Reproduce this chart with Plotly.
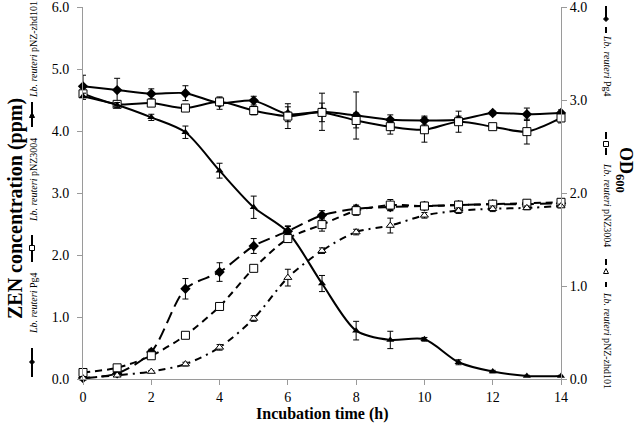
import plotly.graph_objects as go

time_h = [0, 1, 2, 3, 4, 5, 6, 7, 8, 9, 10, 11, 12, 13, 14]

zen_pg4 = [4.72, 4.66, 4.60, 4.61, 4.45, 4.49, 4.27, 4.31, 4.25, 4.18, 4.17, 4.18, 4.29, 4.27, 4.29]
zen_pg4_err = [0.18, 0.19, 0.08, 0.12, 0.10, 0.07, 0.12, 0.30, 0.38, 0.08, 0.07, 0.06, 0.03, 0.10, 0.05]
zen_pnz3004 = [4.60, 4.43, 4.45, 4.37, 4.47, 4.33, 4.24, 4.30, 4.17, 4.07, 4.02, 4.15, 4.07, 3.99, 4.21]
zen_pnz3004_err = [0.05, 0.05, 0.05, 0.05, 0.06, 0.07, 0.20, 0.15, 0.12, 0.12, 0.20, 0.17, 0.04, 0.20, 0.08]
zen_zhd101 = [4.56, 4.42, 4.22, 3.98, 3.36, 2.77, 2.37, 1.54, 0.78, 0.63, 0.64, 0.27, 0.12, 0.05, 0.05]
zen_zhd101_err = [0.05, 0.04, 0.05, 0.10, 0.12, 0.18, 0.10, 0.13, 0.15, 0.14, 0.03, 0.04, 0.02, 0.01, 0.01]

od_pg4 = [0.01, 0.06, 0.29, 0.97, 1.15, 1.43, 1.59, 1.76, 1.83, 1.85, 1.86, 1.87, 1.88, 1.88, 1.89]
od_pg4_err = [0.01, 0.02, 0.03, 0.11, 0.10, 0.08, 0.05, 0.05, 0.04, 0.04, 0.03, 0.04, 0.02, 0.03, 0.03]
od_pnz3004 = [0.07, 0.12, 0.25, 0.47, 0.78, 1.19, 1.51, 1.66, 1.81, 1.87, 1.86, 1.87, 1.88, 1.89, 1.90]
od_pnz3004_err = [0.01, 0.01, 0.02, 0.02, 0.02, 0.03, 0.04, 0.07, 0.05, 0.06, 0.04, 0.03, 0.02, 0.03, 0.03]
od_zhd101 = [0.01, 0.04, 0.08, 0.16, 0.34, 0.65, 1.09, 1.38, 1.58, 1.65, 1.76, 1.81, 1.83, 1.84, 1.86]
od_zhd101_err = [0.01, 0.01, 0.01, 0.02, 0.03, 0.03, 0.09, 0.03, 0.03, 0.08, 0.03, 0.03, 0.03, 0.02, 0.02]

x_ticks = [0, 2, 4, 6, 8, 10, 12, 14]
zen_ticks = [0, 1, 2, 3, 4, 5, 6]
od_ticks = [0, 1, 2, 3, 4]

strain_names = ["Pg4", "pNZ3004", "pNZ-zhd101"]

W, H = 638, 423
L, R, T, B = 83, 561, 7, 379
FONT = "Liberation Serif, Times New Roman, serif"


def err(v):
    return dict(type="data", array=v, visible=True, color="black", thickness=1, width=3)


fig = go.Figure()

od_specs = [
    (od_pg4, od_pg4_err, "12px,6px", dict(symbol="diamond", size=8, color="black"), strain_names[0]),
    (od_pnz3004, od_pnz3004_err, "7px,5px", dict(symbol="square", size=8, color="white", line=dict(color="black", width=1)), strain_names[1]),
    (od_zhd101, od_zhd101_err, "7px,5px,2px,5px", dict(symbol="triangle-up", size=7, color="white", line=dict(color="black", width=1)), strain_names[2]),
]
for y, e, dash, mk, nm in od_specs:
    fig.add_trace(go.Scatter(
        x=time_h, y=y, yaxis="y2", mode="lines+markers", name="OD " + nm,
        line=dict(color="black", width=2, dash=dash, shape="spline", smoothing=0.8),
        marker=mk, error_y=err(e), cliponaxis=False, showlegend=False))

zen_specs = [
    (zen_pg4, zen_pg4_err, dict(symbol="diamond", size=8, color="black"), strain_names[0]),
    (zen_pnz3004, zen_pnz3004_err, dict(symbol="square", size=8, color="white", line=dict(color="black", width=1)), strain_names[1]),
    (zen_zhd101, zen_zhd101_err, dict(symbol="triangle-up", size=7, color="black"), strain_names[2]),
]
for y, e, mk, nm in zen_specs:
    fig.add_trace(go.Scatter(
        x=time_h, y=y, mode="lines+markers", name="ZEN " + nm,
        line=dict(color="black", width=2, shape="spline", smoothing=0.8),
        marker=mk, error_y=err(e), cliponaxis=False, showlegend=False))


def px(xp):
    return (xp - L) / (R - L)


def py(yp):
    return (B - yp) / (B - T)


shapes = []
annotations = []


def vline(x, y0, y1, dash="solid"):
    shapes.append(dict(type="line", xref="paper", yref="paper", x0=px(x), x1=px(x),
                       y0=py(y0), y1=py(y1), line=dict(color="black", width=2, dash=dash)))


def marker_shape(kind, x, y, filled, s=3):
    fill = "black" if filled else "white"
    if kind == "diamond":
        pts = [(x, y - s), (x + s, y), (x, y + s), (x - s, y)]
    elif kind == "square":
        pts = [(x - s, y - s), (x + s, y - s), (x + s, y + s), (x - s, y + s)]
    else:
        pts = [(x, y - s), (x + s, y + s), (x - s, y + s)]
    path = "M " + " L ".join(f"{px(a)},{py(b)}" for a, b in pts) + " Z"
    shapes.append(dict(type="path", xref="paper", yref="paper", path=path,
                       fillcolor=fill, line=dict(color="black", width=1)))


def text(x, y, s, size, angle=0):
    annotations.append(dict(xref="paper", yref="paper", x=px(x), y=py(y), showarrow=False,
                            xanchor="center", yanchor="middle", textangle=angle, text=s,
                            font=dict(family=FONT, size=size, color="black")))


# Left legend (ZEN, solid lines)
LX = 32
for (y0, y1, ym, kind, filled), yc, nm in zip(
        [(348, 377, 362, "diamond", True), (235, 262, 248, "square", False), (102, 127, 115, "triangle", True)],
        [304, 180, 50], strain_names):
    vline(LX, y0, y1)
    marker_shape(kind, LX, ym, filled, 2.5)
    text(LX + 1, yc, f"<i>Lb. reuteri</i> {nm}", 10, -90)

# Right legend (OD, dashed lines)
RX = 606
vline(RX, 6, 18)
marker_shape("diamond", RX, 19, True, 2.5)
vline(RX, 27, 33)
vline(RX, 132, 139)
marker_shape("square", RX, 144, False, 2.5)
vline(RX, 148, 155)
vline(RX, 259, 265)
marker_shape("triangle", RX, 271, False, 2.5)
vline(RX, 282, 287)
for yc, nm in zip([65, 205, 340], strain_names):
    text(RX + 2, yc, f"<i>Lb. reuteri</i> {nm}", 10, 90)

# Axis titles
text(15, 209, "<b>ZEN concentration (ppm)</b>", 20, -90)
text(625, 170, "<b>OD<sub>600</sub></b>", 18, 90)
text(322, 414, "<b>Incubation time (h)</b>", 16, 0)

axis_common = dict(showgrid=False, zeroline=False, showline=True, linecolor="#9a9a9a", linewidth=1,
                   ticks="outside", ticklen=5, tickcolor="#9a9a9a", ticklabeloverflow="allow",
                   tickfont=dict(family=FONT, size=14, color="black"))

fig.update_layout(
    width=W, height=H,
    margin=dict(l=L, r=W - R, t=T, b=H - B, autoexpand=False),
    plot_bgcolor="white", paper_bgcolor="white",
    xaxis=dict(range=[0, 14], tickvals=x_ticks, ticktext=[str(v) for v in x_ticks], **axis_common),
    yaxis=dict(range=[0, 6.0001], tickvals=zen_ticks, ticktext=[f"{v:.1f}" for v in zen_ticks],
               ticklabelstandoff=5, **axis_common),
    yaxis2=dict(range=[0, 4.0001], overlaying="y", side="right", tickvals=od_ticks,
                ticktext=[f"{v:.1f}" for v in od_ticks], **axis_common),
    shapes=shapes, annotations=annotations, showlegend=False,
)

fig.write_html("out.html", config={"displayModeBar": False},
               post_script="document.body.style.margin='0';document.body.style.overflow='hidden';")
